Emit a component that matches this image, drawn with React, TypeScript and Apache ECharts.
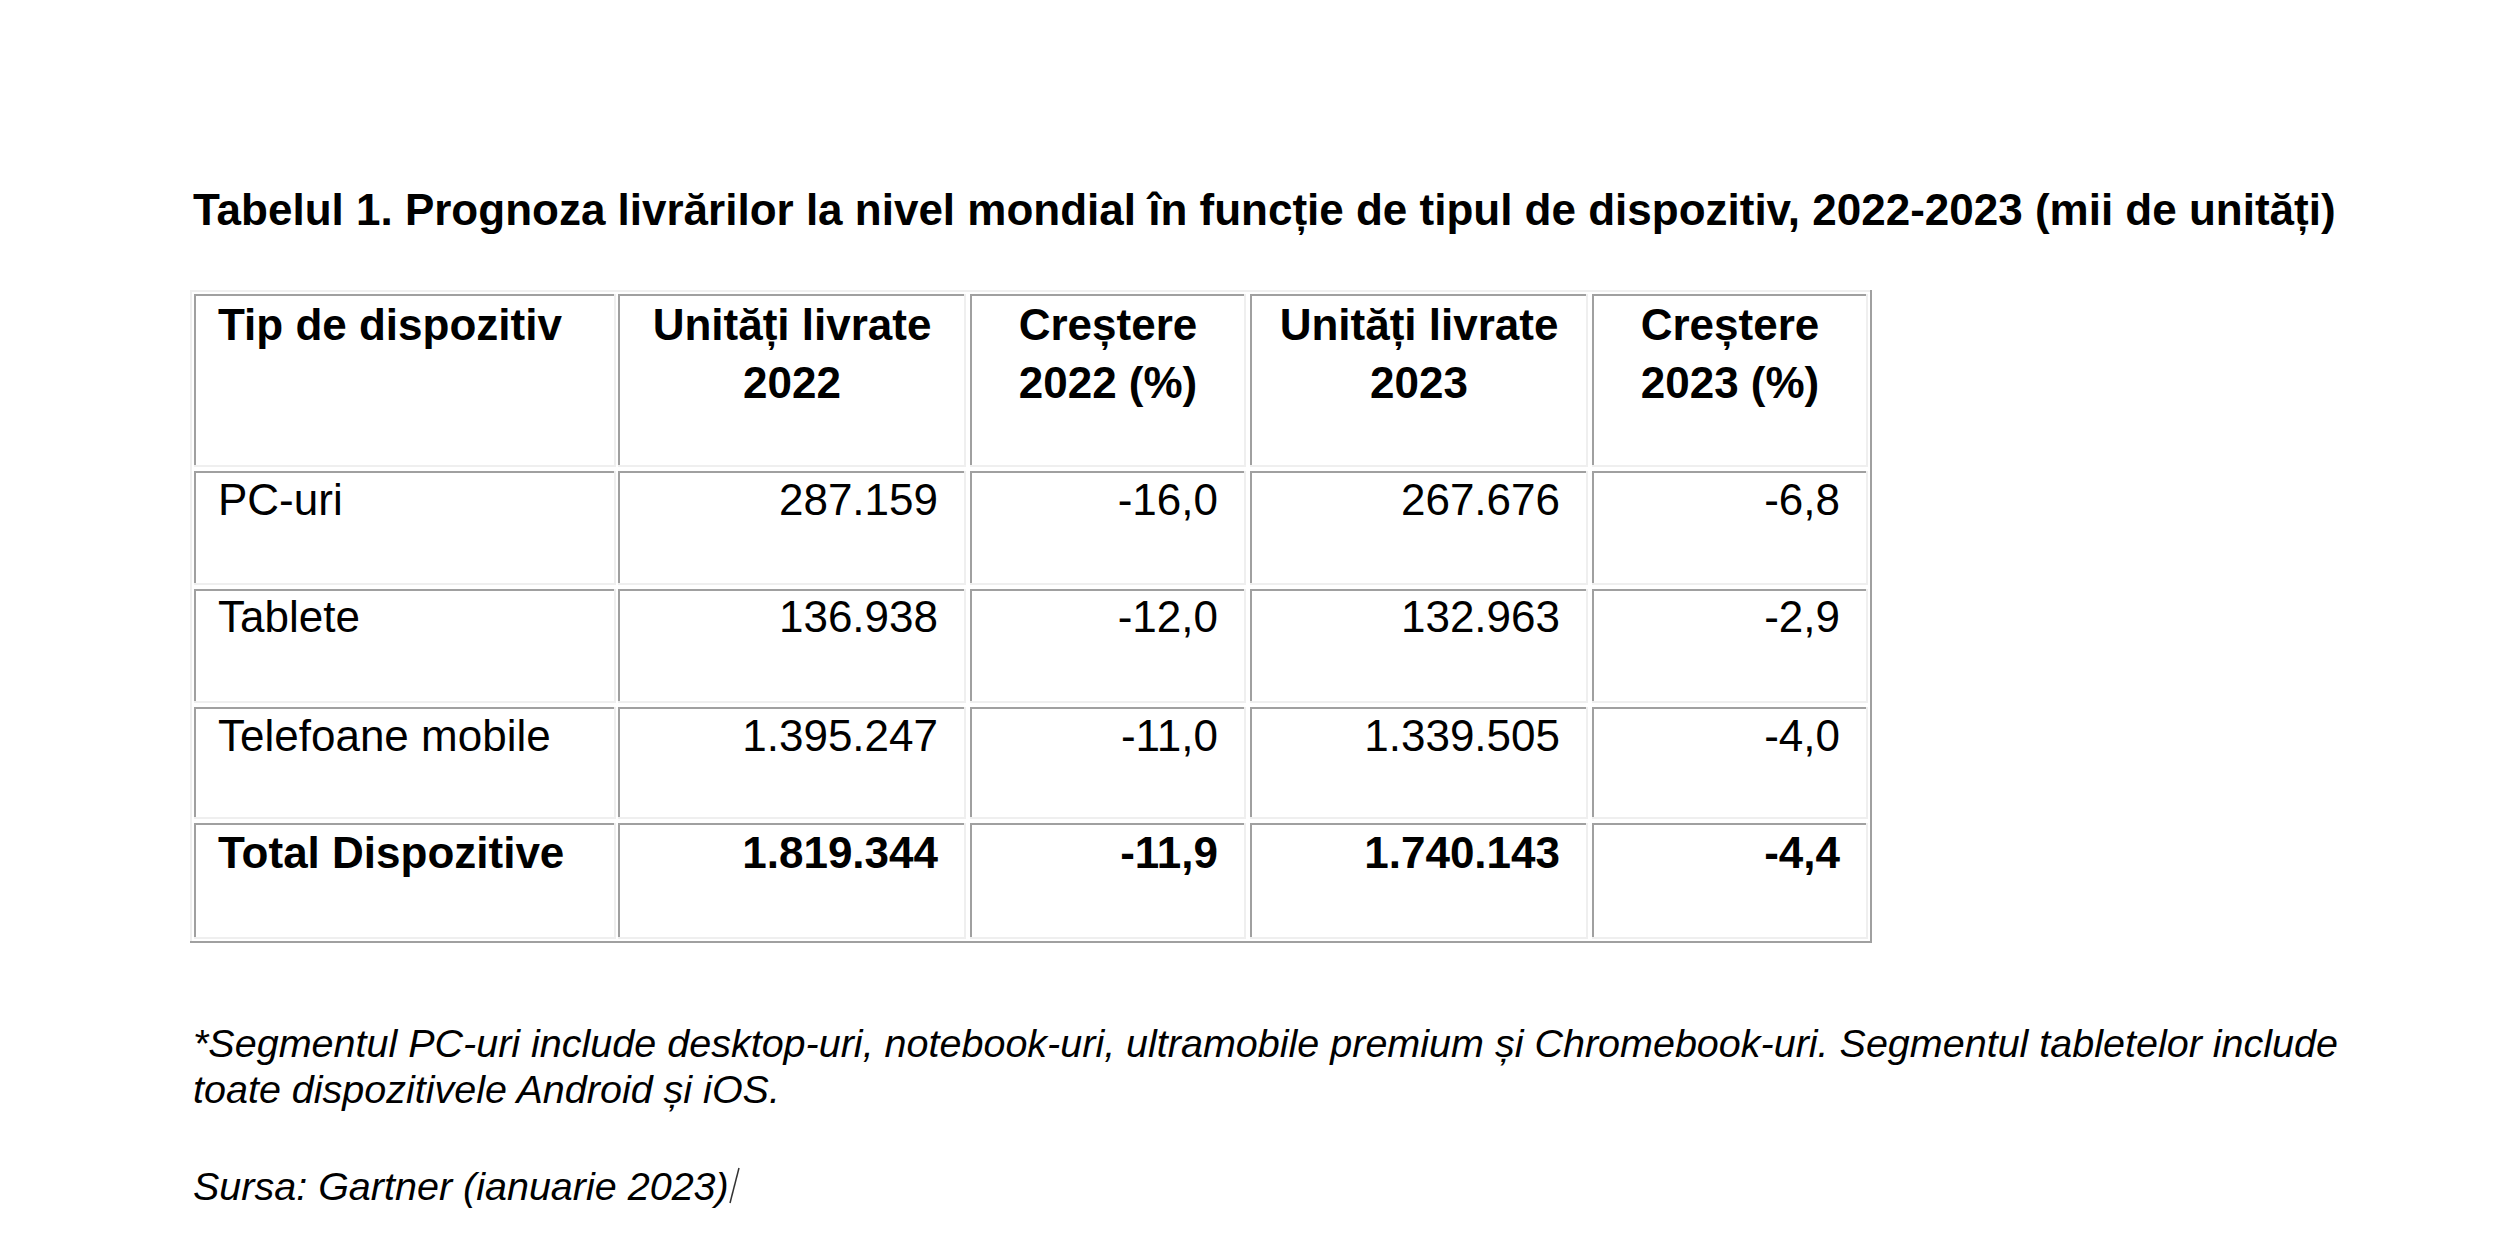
import React, { useEffect, useRef } from "react";
import * as echarts from "echarts";

const title =
  "Tabelul 1. Prognoza livrărilor la nivel mondial în funcție de tipul de dispozitiv, 2022-2023 (mii de unități)";
const headers: string[][] = [
  ["Tip de dispozitiv"],
  ["Unități livrate", "2022"],
  ["Creștere", "2022 (%)"],
  ["Unități livrate", "2023"],
  ["Creștere", "2023 (%)"],
];
const categories = ["PC-uri", "Tablete", "Telefoane mobile", "Total Dispozitive"];
const units2022 = [287159, 136938, 1395247, 1819344];
const growth2022 = [-16.0, -12.0, -11.0, -11.9];
const units2023 = [267676, 132963, 1339505, 1740143];
const growth2023 = [-6.8, -2.9, -4.0, -4.4];
const footnoteLines = [
  "*Segmentul PC-uri include desktop-uri, notebook-uri, ultramobile premium și Chromebook-uri. Segmentul tabletelor include",
  "toate dispozitivele Android și iOS.",
];
const sourceText = "Sursa: Gartner (ianuarie 2023)";

const fmtInt = (n: number) => String(n).replace(/\B(?=(\d{3})+(?!\d))/g, ".");
const fmtPct = (n: number) => n.toFixed(1).replace(".", ",");

const W = 2519;
const H = 1249;
const FONT = "'Liberation Sans', Arial, Helvetica, sans-serif";
const DARK = "#a0a0a0";
const LIGHT = "#efefef";

const colLeft = [194, 618, 970, 1250, 1592];
const colRight = [616, 966, 1246, 1588, 1868];
const rowTop = [294, 471, 589, 707, 823];
const rowBottom = [467, 585, 703, 819, 939];

function buildGraphics() {
  const els: any[] = [];
  const rect = (x: number, y: number, w: number, h: number, fill: string) =>
    els.push({ type: "rect", shape: { x, y, width: w, height: h }, style: { fill }, silent: true });
  const text = (
    t: string,
    x: number,
    y: number,
    size: number,
    weight: string,
    align: string,
    italic = false
  ) =>
    els.push({
      type: "text",
      x,
      y,
      silent: true,
      style: {
        text: t,
        font: `${italic ? "italic " : ""}${weight} ${size}px ${FONT}`,
        fill: "#000",
        textAlign: align,
        textVerticalAlign: "middle",
      },
    });

  // title
  text(title, 193, 209, 44, "bold", "left");

  // outer table border (outset)
  const oL = 190, oT = 290, oR = 1872, oB = 943;
  rect(oL, oT, oR - oL, 2, LIGHT);
  rect(oL, oT, 2, oB - oT, LIGHT);
  rect(oL, oB - 2, oR - oL, 2, DARK);
  rect(oR - 2, oT, 2, oB - oT, DARK);

  // cells (inset)
  for (let r = 0; r < rowTop.length; r++) {
    for (let c = 0; c < colLeft.length; c++) {
      const x0 = colLeft[c], x1 = colRight[c], y0 = rowTop[r], y1 = rowBottom[r];
      rect(x0, y0, x1 - x0, 2, DARK);
      rect(x0, y0, 2, y1 - y0, DARK);
      rect(x0, y1 - 2, x1 - x0, 2, LIGHT);
      rect(x1 - 2, y0, 2, y1 - y0, LIGHT);
    }
  }

  // header
  const hY = [324, 382];
  headers.forEach((lines, c) => {
    lines.forEach((ln, i) => {
      if (c === 0) text(ln, colLeft[0] + 24, hY[i], 44, "bold", "left");
      else text(ln, (colLeft[c] + colRight[c]) / 2, hY[i], 44, "bold", "center");
    });
  });

  // body
  const rowCenter = [499, 616, 735, 852];
  categories.forEach((cat, i) => {
    const y = rowCenter[i];
    const wt = i === categories.length - 1 ? "bold" : "normal";
    text(cat, colLeft[0] + 24, y, 44, wt, "left");
    const vals = [fmtInt(units2022[i]), fmtPct(growth2022[i]), fmtInt(units2023[i]), fmtPct(growth2023[i])];
    vals.forEach((v, k) => {
      text(v, colRight[k + 1] - 28, y, 44, wt, "right");
    });
  });

  // footnote
  text(footnoteLines[0], 193, 1043, 39.5, "normal", "left", true);
  text(footnoteLines[1], 193, 1089, 39.5, "normal", "left", true);
  text(sourceText, 193, 1186, 39.5, "normal", "left", true);
  els.push({
    type: "line",
    silent: true,
    shape: { x1: 730, y1: 1203, x2: 739, y2: 1168 },
    style: { stroke: "#333", lineWidth: 1.5 },
  });

  return els;
}

export default function App() {
  const ref = useRef<HTMLDivElement>(null);
  useEffect(() => {
    if (!ref.current) return;
    const chart = echarts.init(ref.current, undefined, { renderer: "svg" });
    chart.setOption({
      animation: false,
      backgroundColor: "#ffffff",
      graphic: { elements: buildGraphics() },
    });
    return () => chart.dispose();
  }, []);
  return (
    <div
      ref={ref}
      style={{ position: "fixed", left: 0, top: 0, width: W, height: H, background: "#fff" }}
    />
  );
}
